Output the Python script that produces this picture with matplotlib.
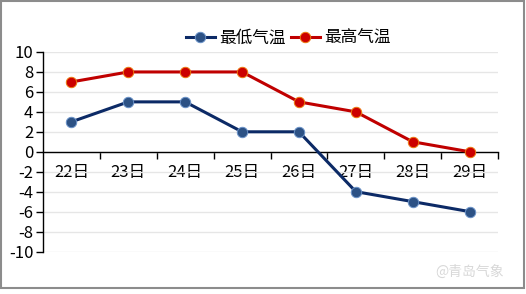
import matplotlib
matplotlib.use("Agg")
import matplotlib.pyplot as plt
from matplotlib.patches import Rectangle

plt.rcParams["font.family"] = ["Noto Sans CJK SC", "DejaVu Sans"]

# data
days = ["22日", "23日", "24日", "25日", "26日", "27日", "28日", "29日"]
low_temp = [3, 5, 5, 2, 2, -4, -5, -6]
high_temp = [7, 8, 8, 8, 5, 4, 1, 0]
y_ticks = [10, 8, 6, 4, 2, 0, -2, -4, -6, -8, -10]

W, H = 526, 294
fig = plt.figure(figsize=(W / 100, H / 100), dpi=100)

# plot area in pixels: x 43..498, y 52..251.5
ax = fig.add_axes([43 / W, (H - 251.5) / H, 455 / W, 199.5 / H])

x = list(range(len(days)))
ax.plot(x, low_temp, color="#0c2a66", linewidth=2.2, marker="o", markersize=7.5,
        markerfacecolor="#2d5285", markeredgecolor="#6a92c8", markeredgewidth=0.7,
        label="最低气温", zorder=3)
ax.plot(x, high_temp, color="#c00000", linewidth=2.2, marker="o", markersize=7.5,
        markerfacecolor="#cc0000", markeredgecolor="#ec7a10", markeredgewidth=0.7,
        label="最高气温", zorder=3)

ax.set_xlim(-0.5, len(days) - 0.5)
ax.set_ylim(-10, 10)

# y axis
ax.set_yticks(y_ticks)
ax.set_yticklabels([str(v) for v in y_ticks])
ax.yaxis.grid(True, color="#e6e6e6", linewidth=1.0)
ax.set_axisbelow(True)

# x axis on zero line, ticks between categories
ax.spines["bottom"].set_position(("data", 0))
ax.spines["top"].set_visible(False)
ax.spines["right"].set_visible(False)
ax.set_xticks([i + 0.5 for i in x])
ax.set_xticklabels([])
ax.set_xticks(x, minor=True)
ax.set_xticklabels(days, minor=True)
ax.tick_params(axis="x", which="major", direction="out", length=5, width=1, color="black")
ax.tick_params(axis="x", which="minor", length=0, pad=9, labelsize=12)
ax.tick_params(axis="y", direction="out", length=5, width=1, labelsize=12, pad=2)
for s in ["bottom", "left"]:
    ax.spines[s].set_color("black")
    ax.spines[s].set_linewidth(1.0)

leg = fig.legend(loc="center", bbox_to_anchor=(288 / W, 1 - 38 / H), ncol=2,
                 frameon=False, fontsize=12, handlelength=1.75, handletextpad=0.25,
                 columnspacing=0.3, borderpad=0.2)

# watermark
fig.text(470 / W, 1 - 272 / H, "@青岛气象", ha="center", va="center",
         fontsize=10, color="#d8d8d8")

# outer frame
fig.patches.append(Rectangle((0.5 / W, 1 - 288 / H), 523.5 / W, 287.5 / H,
                             transform=fig.transFigure, fill=False,
                             edgecolor="#8c8c8c", linewidth=1.5))

fig.savefig("out.png", dpi=100)
